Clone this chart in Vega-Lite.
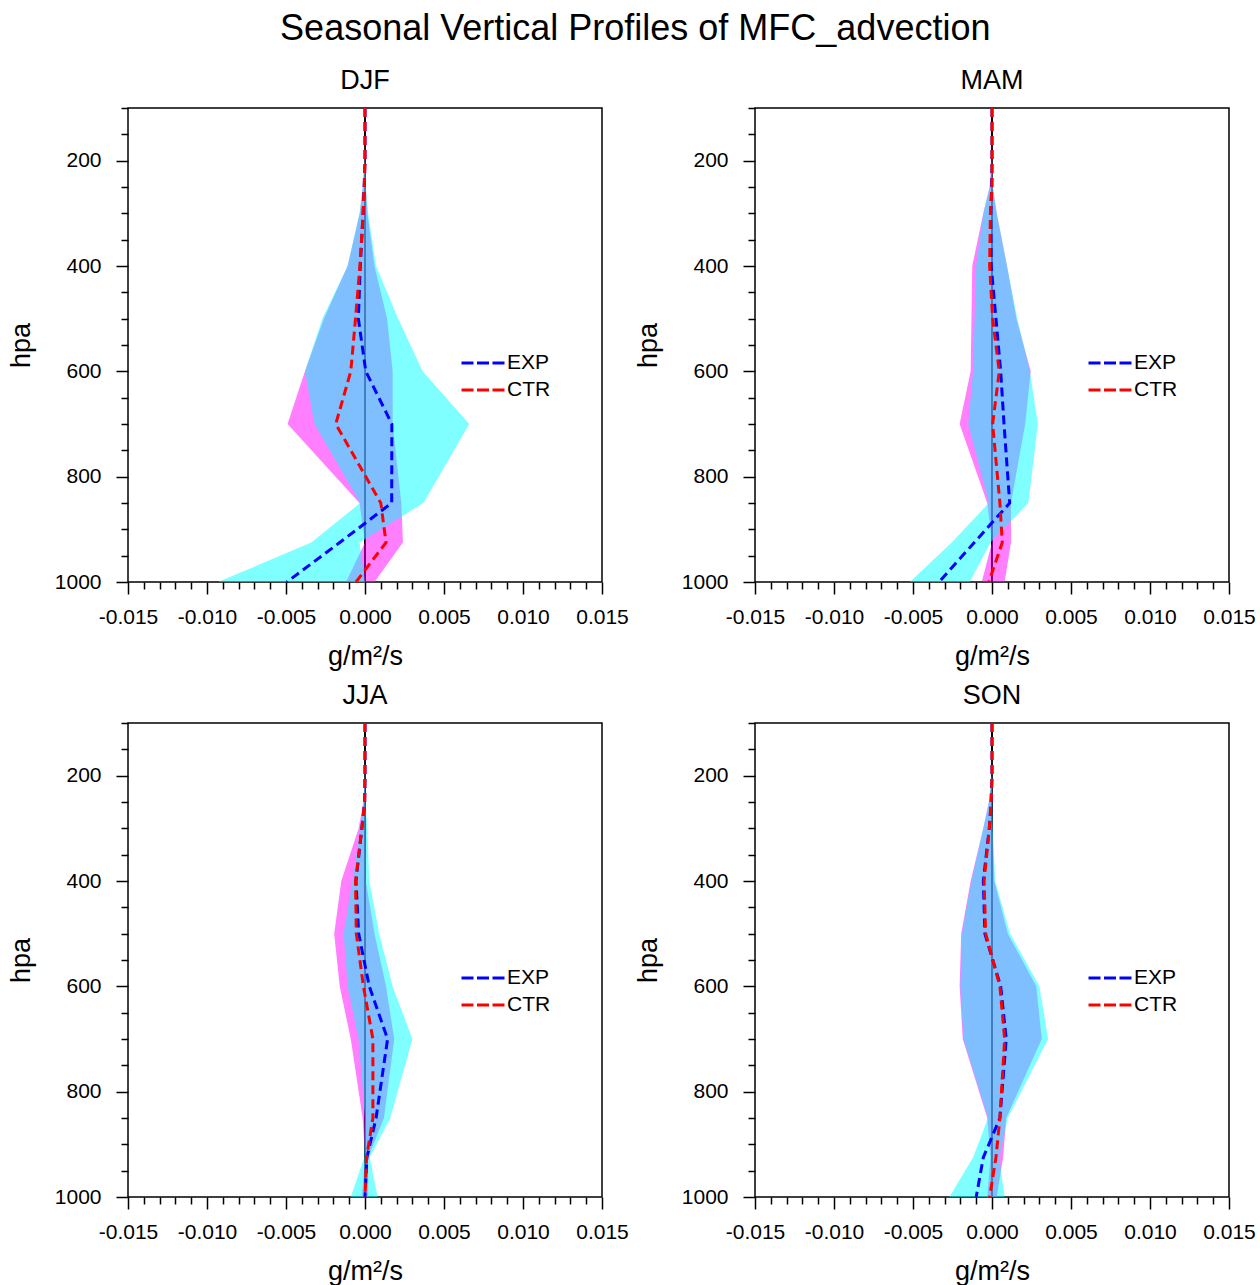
{
  "$schema": "https://vega.github.io/schema/vega-lite/v6.json",
  "background": "white",
  "padding": {"left": 6, "top": 11, "right": 0, "bottom": 0},
  "title": {"text": "Seasonal Vertical Profiles of MFC_advection", "fontSize": 36, "font": "Liberation Sans", "fontWeight": "normal", "anchor": "middle", "offset": 18, "dx": 4},
  "datasets": {
    "prof": [
      {"s":"DJF","m":"EXP","p":100,"v":0,"lo":0,"hi":0},
      {"s":"DJF","m":"EXP","p":150,"v":0,"lo":0,"hi":0},
      {"s":"DJF","m":"EXP","p":200,"v":0,"lo":-0.00003,"hi":0.00002},
      {"s":"DJF","m":"EXP","p":250,"v":-0.00005,"lo":-0.00015,"hi":0.00006},
      {"s":"DJF","m":"EXP","p":300,"v":-0.00012,"lo":-0.00035,"hi":0.0002},
      {"s":"DJF","m":"EXP","p":400,"v":-0.0003,"lo":-0.0011,"hi":0.0007},
      {"s":"DJF","m":"EXP","p":500,"v":-0.00042,"lo":-0.0027,"hi":0.0021},
      {"s":"DJF","m":"EXP","p":600,"v":0.00005,"lo":-0.0038,"hi":0.00365},
      {"s":"DJF","m":"EXP","p":700,"v":0.0017,"lo":-0.0032,"hi":0.0066},
      {"s":"DJF","m":"EXP","p":850,"v":0.00169,"lo":-0.0003,"hi":0.0037},
      {"s":"DJF","m":"EXP","p":925,"v":-0.0016,"lo":-0.0034,"hi":-0.00035},
      {"s":"DJF","m":"EXP","p":1000,"v":-0.00495,"lo":-0.0093,"hi":0.0},
      {"s":"DJF","m":"CTR","p":100,"v":0,"lo":0,"hi":0},
      {"s":"DJF","m":"CTR","p":150,"v":0,"lo":0,"hi":0},
      {"s":"DJF","m":"CTR","p":200,"v":0,"lo":-0.00003,"hi":0.00002},
      {"s":"DJF","m":"CTR","p":250,"v":-0.00005,"lo":-0.00014,"hi":0.00005},
      {"s":"DJF","m":"CTR","p":300,"v":-0.00012,"lo":-0.00033,"hi":0.00015},
      {"s":"DJF","m":"CTR","p":400,"v":-0.00032,"lo":-0.0011,"hi":0.0006},
      {"s":"DJF","m":"CTR","p":500,"v":-0.0006,"lo":-0.0026,"hi":0.0014},
      {"s":"DJF","m":"CTR","p":600,"v":-0.0009,"lo":-0.0038,"hi":0.00175},
      {"s":"DJF","m":"CTR","p":700,"v":-0.00185,"lo":-0.0049,"hi":0.00175},
      {"s":"DJF","m":"CTR","p":850,"v":0.001,"lo":-0.00035,"hi":0.0023},
      {"s":"DJF","m":"CTR","p":925,"v":0.00133,"lo":0.0,"hi":0.0024},
      {"s":"DJF","m":"CTR","p":1000,"v":-0.00057,"lo":-0.0012,"hi":0.0006},

      {"s":"MAM","m":"EXP","p":100,"v":0,"lo":0,"hi":0},
      {"s":"MAM","m":"EXP","p":150,"v":0,"lo":0,"hi":0},
      {"s":"MAM","m":"EXP","p":200,"v":0,"lo":-0.00002,"hi":0.00002},
      {"s":"MAM","m":"EXP","p":250,"v":-0.00002,"lo":-0.00015,"hi":0.00005},
      {"s":"MAM","m":"EXP","p":300,"v":-0.00008,"lo":-0.00055,"hi":0.0003},
      {"s":"MAM","m":"EXP","p":400,"v":-0.00005,"lo":-0.001,"hi":0.00095},
      {"s":"MAM","m":"EXP","p":500,"v":0.00025,"lo":-0.0011,"hi":0.0016},
      {"s":"MAM","m":"EXP","p":600,"v":0.00055,"lo":-0.0012,"hi":0.0024},
      {"s":"MAM","m":"EXP","p":700,"v":0.00076,"lo":-0.0015,"hi":0.0029},
      {"s":"MAM","m":"EXP","p":850,"v":0.00112,"lo":-0.0002,"hi":0.0023},
      {"s":"MAM","m":"EXP","p":925,"v":-0.00112,"lo":-0.00255,"hi":-0.0001},
      {"s":"MAM","m":"EXP","p":1000,"v":-0.00335,"lo":-0.0052,"hi":-0.0014},
      {"s":"MAM","m":"CTR","p":100,"v":0,"lo":0,"hi":0},
      {"s":"MAM","m":"CTR","p":150,"v":0,"lo":0,"hi":0},
      {"s":"MAM","m":"CTR","p":200,"v":0,"lo":-0.00002,"hi":0.00002},
      {"s":"MAM","m":"CTR","p":250,"v":0,"lo":-0.00015,"hi":0.00005},
      {"s":"MAM","m":"CTR","p":300,"v":-0.0001,"lo":-0.00055,"hi":0.0003},
      {"s":"MAM","m":"CTR","p":400,"v":-0.00015,"lo":-0.00125,"hi":0.00095},
      {"s":"MAM","m":"CTR","p":500,"v":0.00004,"lo":-0.0013,"hi":0.00155},
      {"s":"MAM","m":"CTR","p":600,"v":0.00046,"lo":-0.00135,"hi":0.00245},
      {"s":"MAM","m":"CTR","p":700,"v":0.00004,"lo":-0.00205,"hi":0.0021},
      {"s":"MAM","m":"CTR","p":850,"v":0.0005,"lo":-0.0003,"hi":0.0012},
      {"s":"MAM","m":"CTR","p":925,"v":0.00065,"lo":0.0,"hi":0.0012},
      {"s":"MAM","m":"CTR","p":1000,"v":-0.0002,"lo":-0.00065,"hi":0.0008},

      {"s":"JJA","m":"EXP","p":100,"v":0,"lo":0,"hi":0},
      {"s":"JJA","m":"EXP","p":150,"v":0,"lo":0,"hi":0},
      {"s":"JJA","m":"EXP","p":200,"v":0,"lo":-0.00002,"hi":0.00002},
      {"s":"JJA","m":"EXP","p":250,"v":-0.00002,"lo":-0.0001,"hi":0.00003},
      {"s":"JJA","m":"EXP","p":300,"v":-0.0002,"lo":-0.0003,"hi":0.00015},
      {"s":"JJA","m":"EXP","p":400,"v":-0.00057,"lo":-0.0008,"hi":0.00027},
      {"s":"JJA","m":"EXP","p":500,"v":-0.0004,"lo":-0.00135,"hi":0.0009},
      {"s":"JJA","m":"EXP","p":600,"v":0.00027,"lo":-0.0011,"hi":0.00175},
      {"s":"JJA","m":"EXP","p":700,"v":0.00143,"lo":-0.0004,"hi":0.003},
      {"s":"JJA","m":"EXP","p":850,"v":0.0007,"lo":0.0,"hi":0.0016},
      {"s":"JJA","m":"EXP","p":925,"v":0.00012,"lo":-0.00005,"hi":0.0003},
      {"s":"JJA","m":"EXP","p":1000,"v":0.0,"lo":-0.0009,"hi":0.0008},
      {"s":"JJA","m":"CTR","p":100,"v":0,"lo":0,"hi":0},
      {"s":"JJA","m":"CTR","p":150,"v":0,"lo":0,"hi":0},
      {"s":"JJA","m":"CTR","p":200,"v":0,"lo":-0.00002,"hi":0.00002},
      {"s":"JJA","m":"CTR","p":250,"v":-0.00002,"lo":-0.0001,"hi":0.00003},
      {"s":"JJA","m":"CTR","p":300,"v":-0.0002,"lo":-0.0004,"hi":0.00002},
      {"s":"JJA","m":"CTR","p":400,"v":-0.0006,"lo":-0.0015,"hi":0.00005},
      {"s":"JJA","m":"CTR","p":500,"v":-0.00055,"lo":-0.00195,"hi":0.0006},
      {"s":"JJA","m":"CTR","p":600,"v":-0.0001,"lo":-0.0016,"hi":0.00133},
      {"s":"JJA","m":"CTR","p":700,"v":0.0005,"lo":-0.0009,"hi":0.00185},
      {"s":"JJA","m":"CTR","p":850,"v":0.0005,"lo":-0.00015,"hi":0.0012},
      {"s":"JJA","m":"CTR","p":925,"v":0.0001,"lo":0.0,"hi":0.0002},
      {"s":"JJA","m":"CTR","p":1000,"v":0.0,"lo":-0.0002,"hi":0.0002},

      {"s":"SON","m":"EXP","p":100,"v":0,"lo":0,"hi":0},
      {"s":"SON","m":"EXP","p":150,"v":0,"lo":0,"hi":0},
      {"s":"SON","m":"EXP","p":200,"v":0,"lo":-0.00002,"hi":0.00002},
      {"s":"SON","m":"EXP","p":250,"v":-0.00005,"lo":-0.0002,"hi":0.00002},
      {"s":"SON","m":"EXP","p":300,"v":-0.00017,"lo":-0.00055,"hi":0.00005},
      {"s":"SON","m":"EXP","p":400,"v":-0.00055,"lo":-0.0013,"hi":0.0002},
      {"s":"SON","m":"EXP","p":500,"v":-0.00045,"lo":-0.0019,"hi":0.00115},
      {"s":"SON","m":"EXP","p":600,"v":0.00055,"lo":-0.002,"hi":0.003},
      {"s":"SON","m":"EXP","p":700,"v":0.0009,"lo":-0.0018,"hi":0.00355},
      {"s":"SON","m":"EXP","p":850,"v":0.0005,"lo":-0.00025,"hi":0.001},
      {"s":"SON","m":"EXP","p":925,"v":-0.00055,"lo":-0.0012,"hi":0.00045},
      {"s":"SON","m":"EXP","p":1000,"v":-0.001,"lo":-0.0027,"hi":0.0008},
      {"s":"SON","m":"CTR","p":100,"v":0,"lo":0,"hi":0},
      {"s":"SON","m":"CTR","p":150,"v":0,"lo":0,"hi":0},
      {"s":"SON","m":"CTR","p":200,"v":0,"lo":-0.00002,"hi":0.00002},
      {"s":"SON","m":"CTR","p":250,"v":-0.00005,"lo":-0.0002,"hi":0.00002},
      {"s":"SON","m":"CTR","p":300,"v":-0.00017,"lo":-0.00055,"hi":0.00003},
      {"s":"SON","m":"CTR","p":400,"v":-0.0005,"lo":-0.00135,"hi":0.00015},
      {"s":"SON","m":"CTR","p":500,"v":-0.0004,"lo":-0.00195,"hi":0.001},
      {"s":"SON","m":"CTR","p":600,"v":0.0005,"lo":-0.00205,"hi":0.0028},
      {"s":"SON","m":"CTR","p":700,"v":0.0008,"lo":-0.00185,"hi":0.00315},
      {"s":"SON","m":"CTR","p":850,"v":0.0005,"lo":-0.0003,"hi":0.0009},
      {"s":"SON","m":"CTR","p":925,"v":0.00025,"lo":-0.0001,"hi":0.0007},
      {"s":"SON","m":"CTR","p":1000,"v":-0.00015,"lo":-0.0003,"hi":0.0003}
    ]
  },
  "data": {"name": "prof"},
  "columns": 2,
  "spacing": {"row": 11, "column": 3},
  "resolve": {"scale": {"color": "independent"}, "legend": {"color": "independent"}},
  "concat": [
    {
      "title": "DJF",
      "width": 474, "height": 474,
      "transform": [{"filter": "datum.s === 'DJF'"}],
      "encoding": {
        "y": {"field": "p", "type": "quantitative", "title": "hpa",
          "scale": {"domain": [100, 1000], "reverse": true, "nice": false, "zero": false},
          "axis": {"values": [100,150,200,250,300,350,400,450,500,550,600,650,700,750,800,850,900,950,1000], "tickCount": 50,
            "labelExpr": "datum.value % 200 === 0 ? '' + datum.value : ''",
            "tickSize": {"condition": {"test": "datum.value % 200 === 0", "value": 12}, "value": 7},
            "labelPadding": 15, "titlePadding": 19}}
      },
      "layer": [
        {"mark": {"type": "rule", "color": "black", "strokeWidth": 2},
         "encoding": {"x": {"datum": 0, "type": "quantitative", "title": "g/m²/s",
           "scale": {"domain": [-0.015, 0.015], "nice": false, "zero": false},
           "axis": {"values": [-0.015,-0.014,-0.013,-0.012,-0.011,-0.01,-0.009,-0.008,-0.007,-0.006,-0.005,-0.004,-0.003,-0.002,-0.001,0,0.001,0.002,0.003,0.004,0.005,0.006,0.007,0.008,0.009,0.01,0.011,0.012,0.013,0.014,0.015], "tickCount": 50,
             "labelExpr": "abs(round(datum.value*1000)) % 5 === 0 ? replace(format(datum.value, '.3f'), '\u2212', '-') : ''",
             "tickSize": {"condition": {"test": "abs(round(datum.value*1000)) % 5 === 0", "value": 12}, "value": 7},
             "labelFlush": false, "labelOverlap": false, "labelPadding": 12, "titlePadding": 16}}}},
        {"transform": [{"filter": "datum.m === 'CTR'"}],
         "mark": {"type": "area", "orient": "horizontal", "color": "#ff00ff", "opacity": 0.5},
         "encoding": {"x": {"field": "lo", "type": "quantitative", "title": "g/m²/s"}, "x2": {"field": "hi"}}},
        {"transform": [{"filter": "datum.m === 'EXP'"}],
         "mark": {"type": "area", "orient": "horizontal", "color": "#00ffff", "opacity": 0.5},
         "encoding": {"x": {"field": "lo", "type": "quantitative", "title": "g/m²/s"}, "x2": {"field": "hi"}}},
        {"mark": {"type": "line", "strokeDash": [9, 5], "strokeWidth": 3},
         "encoding": {"x": {"field": "v", "type": "quantitative", "title": "g/m²/s"},
           "order": {"field": "p", "type": "quantitative"},
           "color": {"field": "m", "type": "nominal", "scale": {"domain": ["EXP", "CTR"], "range": ["#0000ff", "#ff0000"]},
             "legend": {"orient": "none", "legendX": 339, "legendY": 239, "title": null, "symbolType": "M-1.5,0H1.5", "symbolSize": 822, "symbolStrokeWidth": 3, "symbolDash": [12, 3.5], "labelFontSize": 21, "labelColor": "black", "rowPadding": 1, "padding": 0, "labelOffset": 8}}}}
      ]
    },
    {
      "title": "MAM",
      "width": 474, "height": 474,
      "transform": [{"filter": "datum.s === 'MAM'"}],
      "encoding": {
        "y": {"field": "p", "type": "quantitative", "title": "hpa",
          "scale": {"domain": [100, 1000], "reverse": true, "nice": false, "zero": false},
          "axis": {"values": [100,150,200,250,300,350,400,450,500,550,600,650,700,750,800,850,900,950,1000], "tickCount": 50,
            "labelExpr": "datum.value % 200 === 0 ? '' + datum.value : ''",
            "tickSize": {"condition": {"test": "datum.value % 200 === 0", "value": 12}, "value": 7},
            "labelPadding": 15, "titlePadding": 19}}
      },
      "layer": [
        {"mark": {"type": "rule", "color": "black", "strokeWidth": 2},
         "encoding": {"x": {"datum": 0, "type": "quantitative", "title": "g/m²/s",
           "scale": {"domain": [-0.015, 0.015], "nice": false, "zero": false},
           "axis": {"values": [-0.015,-0.014,-0.013,-0.012,-0.011,-0.01,-0.009,-0.008,-0.007,-0.006,-0.005,-0.004,-0.003,-0.002,-0.001,0,0.001,0.002,0.003,0.004,0.005,0.006,0.007,0.008,0.009,0.01,0.011,0.012,0.013,0.014,0.015], "tickCount": 50,
             "labelExpr": "abs(round(datum.value*1000)) % 5 === 0 ? replace(format(datum.value, '.3f'), '\u2212', '-') : ''",
             "tickSize": {"condition": {"test": "abs(round(datum.value*1000)) % 5 === 0", "value": 12}, "value": 7},
             "labelFlush": false, "labelOverlap": false, "labelPadding": 12, "titlePadding": 16}}}},
        {"transform": [{"filter": "datum.m === 'CTR'"}],
         "mark": {"type": "area", "orient": "horizontal", "color": "#ff00ff", "opacity": 0.5},
         "encoding": {"x": {"field": "lo", "type": "quantitative", "title": "g/m²/s"}, "x2": {"field": "hi"}}},
        {"transform": [{"filter": "datum.m === 'EXP'"}],
         "mark": {"type": "area", "orient": "horizontal", "color": "#00ffff", "opacity": 0.5},
         "encoding": {"x": {"field": "lo", "type": "quantitative", "title": "g/m²/s"}, "x2": {"field": "hi"}}},
        {"mark": {"type": "line", "strokeDash": [9, 5], "strokeWidth": 3},
         "encoding": {"x": {"field": "v", "type": "quantitative", "title": "g/m²/s"},
           "order": {"field": "p", "type": "quantitative"},
           "color": {"field": "m", "type": "nominal", "scale": {"domain": ["EXP", "CTR"], "range": ["#0000ff", "#ff0000"]},
             "legend": {"orient": "none", "legendX": 339, "legendY": 239, "title": null, "symbolType": "M-1.5,0H1.5", "symbolSize": 822, "symbolStrokeWidth": 3, "symbolDash": [12, 3.5], "labelFontSize": 21, "labelColor": "black", "rowPadding": 1, "padding": 0, "labelOffset": 8}}}}
      ]
    },
    {
      "title": "JJA",
      "width": 474, "height": 474,
      "transform": [{"filter": "datum.s === 'JJA'"}],
      "encoding": {
        "y": {"field": "p", "type": "quantitative", "title": "hpa",
          "scale": {"domain": [100, 1000], "reverse": true, "nice": false, "zero": false},
          "axis": {"values": [100,150,200,250,300,350,400,450,500,550,600,650,700,750,800,850,900,950,1000], "tickCount": 50,
            "labelExpr": "datum.value % 200 === 0 ? '' + datum.value : ''",
            "tickSize": {"condition": {"test": "datum.value % 200 === 0", "value": 12}, "value": 7},
            "labelPadding": 15, "titlePadding": 19}}
      },
      "layer": [
        {"mark": {"type": "rule", "color": "black", "strokeWidth": 2},
         "encoding": {"x": {"datum": 0, "type": "quantitative", "title": "g/m²/s",
           "scale": {"domain": [-0.015, 0.015], "nice": false, "zero": false},
           "axis": {"values": [-0.015,-0.014,-0.013,-0.012,-0.011,-0.01,-0.009,-0.008,-0.007,-0.006,-0.005,-0.004,-0.003,-0.002,-0.001,0,0.001,0.002,0.003,0.004,0.005,0.006,0.007,0.008,0.009,0.01,0.011,0.012,0.013,0.014,0.015], "tickCount": 50,
             "labelExpr": "abs(round(datum.value*1000)) % 5 === 0 ? replace(format(datum.value, '.3f'), '\u2212', '-') : ''",
             "tickSize": {"condition": {"test": "abs(round(datum.value*1000)) % 5 === 0", "value": 12}, "value": 7},
             "labelFlush": false, "labelOverlap": false, "labelPadding": 12, "titlePadding": 16}}}},
        {"transform": [{"filter": "datum.m === 'CTR'"}],
         "mark": {"type": "area", "orient": "horizontal", "color": "#ff00ff", "opacity": 0.5},
         "encoding": {"x": {"field": "lo", "type": "quantitative", "title": "g/m²/s"}, "x2": {"field": "hi"}}},
        {"transform": [{"filter": "datum.m === 'EXP'"}],
         "mark": {"type": "area", "orient": "horizontal", "color": "#00ffff", "opacity": 0.5},
         "encoding": {"x": {"field": "lo", "type": "quantitative", "title": "g/m²/s"}, "x2": {"field": "hi"}}},
        {"mark": {"type": "line", "strokeDash": [9, 5], "strokeWidth": 3},
         "encoding": {"x": {"field": "v", "type": "quantitative", "title": "g/m²/s"},
           "order": {"field": "p", "type": "quantitative"},
           "color": {"field": "m", "type": "nominal", "scale": {"domain": ["EXP", "CTR"], "range": ["#0000ff", "#ff0000"]},
             "legend": {"orient": "none", "legendX": 339, "legendY": 239, "title": null, "symbolType": "M-1.5,0H1.5", "symbolSize": 822, "symbolStrokeWidth": 3, "symbolDash": [12, 3.5], "labelFontSize": 21, "labelColor": "black", "rowPadding": 1, "padding": 0, "labelOffset": 8}}}}
      ]
    },
    {
      "title": "SON",
      "width": 474, "height": 474,
      "transform": [{"filter": "datum.s === 'SON'"}],
      "encoding": {
        "y": {"field": "p", "type": "quantitative", "title": "hpa",
          "scale": {"domain": [100, 1000], "reverse": true, "nice": false, "zero": false},
          "axis": {"values": [100,150,200,250,300,350,400,450,500,550,600,650,700,750,800,850,900,950,1000], "tickCount": 50,
            "labelExpr": "datum.value % 200 === 0 ? '' + datum.value : ''",
            "tickSize": {"condition": {"test": "datum.value % 200 === 0", "value": 12}, "value": 7},
            "labelPadding": 15, "titlePadding": 19}}
      },
      "layer": [
        {"mark": {"type": "rule", "color": "black", "strokeWidth": 2},
         "encoding": {"x": {"datum": 0, "type": "quantitative", "title": "g/m²/s",
           "scale": {"domain": [-0.015, 0.015], "nice": false, "zero": false},
           "axis": {"values": [-0.015,-0.014,-0.013,-0.012,-0.011,-0.01,-0.009,-0.008,-0.007,-0.006,-0.005,-0.004,-0.003,-0.002,-0.001,0,0.001,0.002,0.003,0.004,0.005,0.006,0.007,0.008,0.009,0.01,0.011,0.012,0.013,0.014,0.015], "tickCount": 50,
             "labelExpr": "abs(round(datum.value*1000)) % 5 === 0 ? replace(format(datum.value, '.3f'), '\u2212', '-') : ''",
             "tickSize": {"condition": {"test": "abs(round(datum.value*1000)) % 5 === 0", "value": 12}, "value": 7},
             "labelFlush": false, "labelOverlap": false, "labelPadding": 12, "titlePadding": 16}}}},
        {"transform": [{"filter": "datum.m === 'CTR'"}],
         "mark": {"type": "area", "orient": "horizontal", "color": "#ff00ff", "opacity": 0.5},
         "encoding": {"x": {"field": "lo", "type": "quantitative", "title": "g/m²/s"}, "x2": {"field": "hi"}}},
        {"transform": [{"filter": "datum.m === 'EXP'"}],
         "mark": {"type": "area", "orient": "horizontal", "color": "#00ffff", "opacity": 0.5},
         "encoding": {"x": {"field": "lo", "type": "quantitative", "title": "g/m²/s"}, "x2": {"field": "hi"}}},
        {"mark": {"type": "line", "strokeDash": [9, 5], "strokeWidth": 3},
         "encoding": {"x": {"field": "v", "type": "quantitative", "title": "g/m²/s"},
           "order": {"field": "p", "type": "quantitative"},
           "color": {"field": "m", "type": "nominal", "scale": {"domain": ["EXP", "CTR"], "range": ["#0000ff", "#ff0000"]},
             "legend": {"orient": "none", "legendX": 339, "legendY": 239, "title": null, "symbolType": "M-1.5,0H1.5", "symbolSize": 822, "symbolStrokeWidth": 3, "symbolDash": [12, 3.5], "labelFontSize": 21, "labelColor": "black", "rowPadding": 1, "padding": 0, "labelOffset": 8}}}}
      ]
    }
  ],
  "config": {
    "font": "Liberation Sans",
    "view": {"stroke": "black", "strokeWidth": 1.5},
    "axis": {"grid": false, "domain": false, "tickColor": "black", "tickWidth": 1.5, "labelColor": "black", "labelFontSize": 21, "titleFontSize": 27, "titleFontWeight": "normal", "titleColor": "black", "labelFont": "Liberation Sans", "titleFont": "Liberation Sans"},
    "title": {"fontSize": 27, "fontWeight": "normal", "font": "Liberation Sans", "color": "black", "offset": 7},
    "legend": {"labelFont": "Liberation Sans"}
  }
}
